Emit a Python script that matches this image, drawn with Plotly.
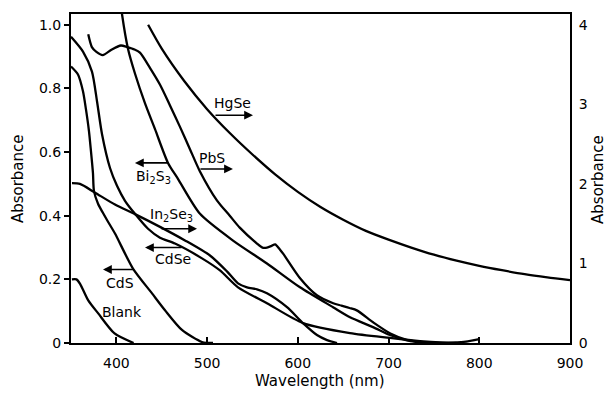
import plotly.graph_objects as go

# ---------------- data ----------------
# Left-axis curves (absorbance 0-1)
bi2s3_nm = [403.5, 406.2, 412.8, 420.5, 431.6, 442.6, 456.9, 467.9, 492.2, 528.6, 566, 602.4, 638.8, 657.5, 682.9, 701.6, 720.3, 740]
bi2s3_abs = [1.10, 1.034, 0.925, 0.847, 0.753, 0.672, 0.566, 0.516, 0.406, 0.322, 0.25, 0.175, 0.1125, 0.081, 0.05, 0.025, 0.008, 0.0]

cdse_nm = [350, 363.2, 373.1, 378.7, 384.2, 393, 400.7, 409.5, 420.5, 434.9, 448.1, 464.6, 494.4, 514.2, 534.1, 566, 605.7, 657.5, 701.6, 734.7, 756.7, 775]
cdse_abs = [0.9625, 0.916, 0.853, 0.759, 0.656, 0.55, 0.494, 0.447, 0.406, 0.359, 0.331, 0.3125, 0.266, 0.228, 0.175, 0.125, 0.0625, 0.031, 0.016, 0.006, 0.0015, 0.0]

cds_nm = [350, 357.7, 363.2, 366.5, 369.8, 372, 374.2, 375.3, 379.8, 385, 390, 398.5, 418.3, 439.3, 453.6, 472.3, 494.4, 506.5]
cds_abs = [0.869, 0.844, 0.791, 0.734, 0.666, 0.603, 0.534, 0.478, 0.4375, 0.41, 0.385, 0.344, 0.234, 0.156, 0.103, 0.041, 0.003, 0.0]

blank_nm = [351, 356, 360, 369, 380, 398, 419]
blank_abs = [0.2, 0.2, 0.186, 0.134, 0.093, 0.03, 0.0]

# Right-axis curves (absorbance 0-4)
hgse_nm = [435, 450, 475, 500, 525, 550, 575, 600, 625, 650, 675, 700, 725, 750, 775, 800, 825, 850, 875, 900]
hgse_abs = [4.00, 3.70, 3.29, 2.94, 2.64, 2.37, 2.12, 1.90, 1.71, 1.55, 1.41, 1.30, 1.20, 1.11, 1.035, 0.97, 0.915, 0.865, 0.825, 0.79]

pbs_nm = [369, 373, 378, 385, 395, 405, 412, 420, 426, 437, 448, 459, 470, 481, 492, 511, 525, 536, 555, 561, 566, 571, 575, 580, 584, 602, 621, 639, 648, 657, 665, 683, 702, 720, 738, 760, 780, 800]
pbs_abs = [3.88, 3.72, 3.66, 3.62, 3.69, 3.74, 3.72, 3.69, 3.65, 3.46, 3.25, 2.99, 2.72, 2.44, 2.16, 1.79, 1.60, 1.45, 1.25, 1.20, 1.20, 1.22, 1.24, 1.18, 1.12, 0.82, 0.60, 0.50, 0.47, 0.44, 0.41, 0.26, 0.12, 0.04, 0.01, 0.0, 0.01, 0.05]

in2se3_nm = [351.1, 359.9, 376.5, 398.5, 420.5, 448.1, 475.6, 503.2, 521.9, 534.1, 544, 555, 566, 588.1, 605.7, 621.1, 632.2, 643.2]
in2se3_abs = [2.01, 2.0, 1.89, 1.74, 1.62, 1.46, 1.29, 1.10, 0.90, 0.75, 0.70, 0.675, 0.625, 0.45, 0.25, 0.10, 0.037, 0.0]

# axis ticks
x_ticks = [400, 500, 600, 700, 800, 900]
x_ticktext = ["400", "500", "600", "700", "800", "900"]
yl_ticks = [0, 0.2, 0.4, 0.6, 0.8, 1.0]
yl_ticktext = ["0", "0.2", "0.4", "0.6", "0.8", "1.0"]
yr_ticks = [0, 1, 2, 3, 4]
yr_ticktext = ["0", "1", "2", "3", "4"]

# curve labels: (text, x, y on left axis scale)
labels = [
    ("HgSe", 528.5, 0.753),
    ("PbS", 505.4, 0.581),
    ("Bi<sub>2</sub>S<sub>3</sub>", 440.4, 0.522),
    ("In<sub>2</sub>Se<sub>3</sub>", 461.3, 0.403),
    ("CdSe", 462.4, 0.2625),
    ("CdS", 404.0, 0.19),
    ("Blank", 406.2, 0.097),
]
# arrows: (head x, head y, tail pixel offset)
arrows = [
    (550.6, 0.716, -39),
    (528.5, 0.547, -34),
    (420.5, 0.566, 35),
    (488.9, 0.359, -37),
    (431.6, 0.300, 38),
    (385.3, 0.231, 32),
]

FONT = "DejaVu Sans"
fig = go.Figure()

def add(nm, vals, axis):
    fig.add_trace(go.Scatter(
        x=nm, y=vals, mode="lines", yaxis=axis, showlegend=False, hoverinfo="skip",
        line=dict(color="black", width=2.3, shape="spline", smoothing=0.7)))

add(bi2s3_nm, bi2s3_abs, "y")
add(cdse_nm, cdse_abs, "y")
add(cds_nm, cds_abs, "y")
add(blank_nm, blank_abs, "y")
add(hgse_nm, hgse_abs, "y2")
add(pbs_nm, pbs_abs, "y2")
add(in2se3_nm, in2se3_abs, "y2")

ann = []
for t, x, y in labels:
    ann.append(dict(text=t, x=x, y=y, xref="x", yref="y", showarrow=False,
                    xanchor="center", yanchor="middle",
                    font=dict(family=FONT, size=14, color="black")))
for x, y, ax in arrows:
    ann.append(dict(text="", x=x, y=y, xref="x", yref="y", ax=ax, ay=0,
                    showarrow=True, arrowhead=2, arrowsize=1.1, arrowwidth=1.6,
                    arrowcolor="black"))
ann.append(dict(text="Absorbance", x=-0.106, y=0.4985, xref="paper", yref="paper",
                xanchor="center", yanchor="middle",
                textangle=-90, showarrow=False, font=dict(family=FONT, size=15, color="black")))
ann.append(dict(text="Absorbance", x=1.056, y=0.4985, xref="paper", yref="paper",
                xanchor="center", yanchor="middle",
                textangle=-90, showarrow=False, font=dict(family=FONT, size=15, color="black")))
ann.append(dict(text="Wavelength (nm)", x=0.499, y=-0.1148, xref="paper", yref="paper",
                xanchor="center", yanchor="middle",
                showarrow=False, font=dict(family=FONT, size=15, color="black")))

# page has an 8px body margin, so the figure is 8px smaller on each side
fig.update_layout(
    width=605, height=385,
    margin=dict(l=63, r=43, t=4, b=50),
    paper_bgcolor="white", plot_bgcolor="white",
    font=dict(family=FONT, size=14, color="black"),
    annotations=ann,
    xaxis=dict(range=[350, 900], tickvals=x_ticks, ticktext=x_ticktext,
               ticks="inside", ticklen=6, tickwidth=1.5, tickcolor="black",
               showline=True, linewidth=2, linecolor="black", mirror=True,
               showgrid=False, zeroline=False, ticklabelstandoff=6),
    yaxis=dict(range=[0, 1.034], tickvals=yl_ticks, ticktext=yl_ticktext,
               ticks="outside", ticklen=5, tickwidth=1.5, tickcolor="black",
               showline=True, linewidth=2, linecolor="black",
               showgrid=False, zeroline=False),
    yaxis2=dict(range=[0, 4.136], tickvals=yr_ticks, ticktext=yr_ticktext,
                overlaying="y", side="right", ticks="",
                showline=True, linewidth=2, linecolor="black",
                showgrid=False, zeroline=False, ticklabelstandoff=4),
)

fig.write_html("out.html")
